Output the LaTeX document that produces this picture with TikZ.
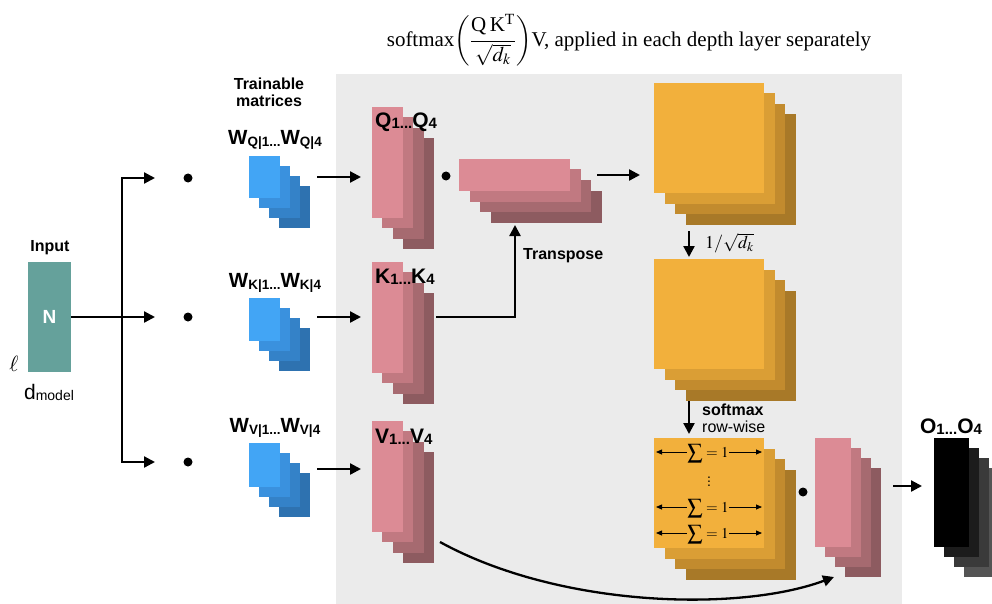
\documentclass[tikz,border=0pt]{standalone}
\usepackage{amsmath}
\usepackage{mathptmx}
\usepackage[no-math]{fontspec}
\setmainfont{Liberation Sans}
\newfontfamily\serif{Liberation Serif}
\usetikzlibrary{arrows.meta}

\definecolor{bgc}{RGB}{235,235,235}
\definecolor{teal0}{RGB}{101,161,155}
\definecolor{blue0}{RGB}{66,165,245}
\definecolor{blue1}{RGB}{58,145,222}
\definecolor{blue2}{RGB}{52,130,200}
\definecolor{blue3}{RGB}{46,114,176}
\definecolor{pink0}{RGB}{220,139,149}
\definecolor{pink1}{RGB}{193,121,129}
\definecolor{pink2}{RGB}{166,106,112}
\definecolor{pink3}{RGB}{141,91,96}
\definecolor{orange0}{RGB}{242,176,60}
\definecolor{orange1}{RGB}{218,158,53}
\definecolor{orange2}{RGB}{194,139,46}
\definecolor{orange3}{RGB}{168,121,40}
\definecolor{dark0}{RGB}{0,0,0}
\definecolor{dark1}{RGB}{28,28,28}
\definecolor{dark2}{RGB}{58,58,58}
\definecolor{dark3}{RGB}{84,84,84}

% #1 name, #2 x, #3 y, #4 w, #5 h, #6 colour prefix, #7 offset
\newcommand\mystack[7]{%
  \foreach \i in {3,2,1,0}{%
    \node[layer, fill=#6\i, minimum width=#4pt, minimum height=#5pt]
      (#1-\i) at ({#2+#7*\i},{#3+#7*\i}) {};
  }%
}
\newcommand\fs[1]{\fontsize{#1}{#1}\selectfont}
\newcommand\wlab[1]{\fs{20.5}W\fs{13.5}\raisebox{-1.5pt}{#1|1...}\fs{20.5}W\fs{13.5}\raisebox{-1.5pt}{#1|4}}
\newcommand\plab[1]{\fs{21}#1\fs{15}\raisebox{-1pt}{1...}\fs{21}#1\fs{15}\raisebox{-1pt}{4}}
\newcommand\sumone{\fs{15}$\smash{\displaystyle\sum} = 1$}

\begin{document}
\begin{tikzpicture}[x=1pt,y=-1pt,
  layer/.style={inner sep=0pt, outer sep=0pt, anchor=north west, draw=none},
  arr/.style={line width=2.3pt, -{Triangle[length=11pt,width=11pt]}},
  sumarr/.style={line width=0.8pt, -{Triangle[length=6pt,width=5pt]}},
  dotc/.style={circle, fill=black, minimum size=9pt, inner sep=0pt},
  lab/.style={font=\bfseries\fs{16}, inner sep=0pt},
  plabel/.style={font=\bfseries, anchor=west, inner sep=0pt}]
\useasboundingbox (0,0) rectangle (992,604);

% background panel
\node[layer, fill=bgc, minimum width=566pt, minimum height=530pt] (bg) at (336,74) {};

% formula
\node[inner sep=0pt] (formula) at (629,40)
  {\serif\fs{21}softmax$\left(\dfrac{\text{Q\,K}^{\text{T}}}{\sqrt{d_k}}\right)$V, applied in each depth layer separately};

% input
\node[layer, fill=teal0, minimum width=43pt, minimum height=110pt] (inp) at (28,262) {};
\node[font=\bfseries\fs{19}, text=white, inner sep=0pt] (nlab) at (inp.center) {N};
\node[lab] (inlab) at (50,248) {Input};
\node[inner sep=0pt] (ell) at (14,364) {\fs{22}$\ell$};
\node[inner sep=0pt] (dm) at (49,392) {\fs{21}d\fs{14}\raisebox{-1pt}{model}};

% trainable matrices
\node[lab, align=center] (tm) at (269,92) {Trainable\\[1pt]matrices};
\mystack{wq}{249}{156}{31}{42}{blue}{10}
\mystack{wk}{249}{298}{31}{43}{blue}{10}
\mystack{wv}{249}{443}{31}{44}{blue}{10}
\node[plabel, anchor=center] (wql) at (275,140) {\wlab{Q}};
\node[plabel, anchor=center] (wkl) at (275,283) {\wlab{K}};
\node[plabel, anchor=center] (wvl) at (275,428) {\wlab{V}};

% split lines
\coordinate (jt) at (122,317);
\coordinate (ta) at (155,178);
\coordinate (tb) at (155,317);
\coordinate (tc) at (155,462);
\draw[arr] (inp.east) -- (tb);
\draw[arr] (jt) |- (ta);
\draw[arr] (jt) |- (tc);
\node[dotc] (d1) at (188,178) {};
\node[dotc] (d2) at (188,317) {};
\node[dotc] (d3) at (188,462) {};

% Q K V stacks
\mystack{q}{372}{107}{31}{111}{pink}{10.3}
\mystack{k}{372}{262}{31}{111}{pink}{10.3}
\mystack{v}{372}{421}{31}{111}{pink}{10.3}
\node[plabel] (ql) at (375,122) {\plab{Q}};
\node[plabel] (kl) at (375,277) {\plab{K}};
\node[plabel] (vl) at (375,437) {\plab{V}};

\coordinate (wqa) at (317,177); \coordinate (wqb) at (361,177);
\coordinate (wka) at (317,317); \coordinate (wkb) at (361,317);
\coordinate (wva) at (317,469); \coordinate (wvb) at (361,469);
\draw[arr] (wqa) -- (wqb);
\draw[arr] (wka) -- (wkb);
\draw[arr] (wva) -- (wvb);

% transposed K
\node[dotc] (d4) at (446,176) {};
\mystack{kt}{459}{159}{111}{32}{pink}{10.5}
\coordinate (ks) at (436,317);
\coordinate (kte) at (515,225);
\draw[arr] (ks) -| (kte);
\node[lab, anchor=west] (tr) at (523,256) {Transpose};

% orange stacks
\mystack{sa}{654}{83}{110}{110}{orange}{10.5}
\mystack{sb}{654}{259}{110}{110}{orange}{10.5}
\mystack{sc}{654}{438}{110}{110}{orange}{10.5}
\coordinate (qa) at (597,175); \coordinate (qb) at (640,175);
\draw[arr] (qa) -- (qb);
\coordinate (o1a) at (689,231); \coordinate (o1b) at (689,257);
\draw[arr] (o1a) -- (o1b);
\node[anchor=west, inner sep=0pt] (scl) at (705,243) {\fs{18}$1/\sqrt{d_k}$};
\coordinate (o2a) at (689,401); \coordinate (o2b) at (689,434);
\draw[arr] (o2a) -- (o2b);
\node[anchor=west, inner sep=0pt, align=left, font=\fs{16}] (sml) at (702,418) {\textbf{softmax}\\[1pt]row-wise};

% sums
\node[inner sep=0.5pt] (s1) at (708,452) {\sumone};
\node[inner sep=0.5pt] (s2) at (708,507) {\sumone};
\node[inner sep=0.5pt] (s3) at (708,533) {\sumone};
\node[inner sep=0pt] (vd) at (709,479) {\fs{14}$\vdots$};
\coordinate (l1) at (656,452); \coordinate (r1) at (762,452);
\coordinate (l2) at (656,507); \coordinate (r2) at (762,507);
\coordinate (l3) at (656,533); \coordinate (r3) at (762,533);
\draw[sumarr] (s1) -- (l1); \draw[sumarr] (s1) -- (r1);
\draw[sumarr] (s2) -- (l2); \draw[sumarr] (s2) -- (r2);
\draw[sumarr] (s3) -- (l3); \draw[sumarr] (s3) -- (r3);

% result
\node[dotc] (d5) at (803,492) {};
\mystack{r}{815}{438}{36}{109}{pink}{10}
\coordinate (vc) at (440,542); \coordinate (rc) at (834,577);
\draw[arr] (vc) .. controls (560,608) and (740,612) .. (rc);
\coordinate (ra) at (893,486); \coordinate (rb) at (922,486);
\draw[arr] (ra) -- (rb);

% output
\mystack{o}{934}{438}{35}{109}{dark}{10}
\node[plabel, anchor=center] (ol) at (951,427) {\plab{O}};
\end{tikzpicture}
\end{document}
